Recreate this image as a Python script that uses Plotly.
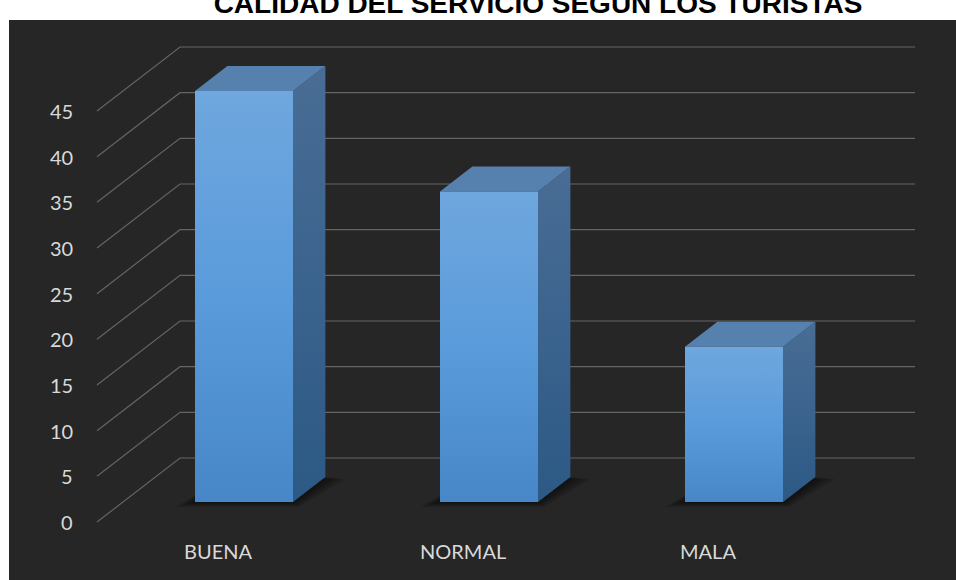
import plotly.graph_objects as go

# ---------------- data ----------------
categories = ["BUENA", "NORMAL", "MALA"]
values = [45, 34, 17]
tick_values = [0, 5, 10, 15, 20, 25, 30, 35, 40, 45]
tick_labels = [str(v) for v in tick_values]
title_text = "CALIDAD DEL SERVICIO SEGÚN LOS TURISTAS"

# ---------------- geometry / style ----------------
W, H = 956, 580
ML, MT = 9, 20                 # white strip left / top
CAT_PX = 245.0                 # px per category
CAT0_PX = 244.0                # px of first category centre (bar front plane)
UNIT_PX = 9.133                # px per value unit
BASE_PX = 502.0                # px of value 0 at bar front plane

def px_x(d):
    return d / CAT_PX

def px_y(d):
    return d / UNIT_PX

FLOOR_DX, FLOOR_DY = 83.0, 64.0          # oblique depth of whole floor (px)
FRONT_FRAC, BACK_FRAC = -0.3125, 0.6875  # floor front/back relative to bar front
BAR_DEPTH_FRAC = 0.39
BAR_W = 0.40

fx, fy = px_x(FLOOR_DX * FRONT_FRAC), px_y(FLOOR_DY * FRONT_FRAC)
bx, by = px_x(FLOOR_DX * BACK_FRAC), px_y(FLOOR_DY * BACK_FRAC)
ddx, ddy = px_x(FLOOR_DX * BAR_DEPTH_FRAC), px_y(FLOOR_DY * BAR_DEPTH_FRAC)

wall_front_x = (97 - CAT0_PX) / CAT_PX
wall_back_x = wall_front_x + px_x(FLOOR_DX)
wall_right_x = (915 - CAT0_PX) / CAT_PX
tick_label_x = (75 - CAT0_PX) / CAT_PX

x_range = [(ML - CAT0_PX) / CAT_PX, (W - CAT0_PX) / CAT_PX]
y_range = [(BASE_PX - H) / UNIT_PX, (BASE_PX - MT) / UNIT_PX]

BG = "#262626"
GRID = "#646464"
TXT = "#D9D9D9"
FONT = "Lato, 'Open Sans', sans-serif"

fig = go.Figure()

# gridlines: left wall diagonals + back wall horizontals
gx, gy = [], []
for v in tick_values:
    gx += [wall_front_x, wall_back_x, wall_right_x, None]
    gy += [v + fy, v + by, v + by, None]
fig.add_trace(go.Scatter(x=gx, y=gy, mode="lines",
                         line=dict(color=GRID, width=1.2),
                         hoverinfo="skip", showlegend=False))

# shadows
for i, v in enumerate(values):
    x0, x1 = i - BAR_W / 2, i + BAR_W / 2
    for k in range(1, 6):
        e = 4.0 * k
        sx = [x0 - px_x(e), x1 + px_x(e * 0.3), x1 + ddx + px_x(e), x0 + ddx, x0 - px_x(e)]
        sy = [-px_y(e * 0.25), -px_y(e * 0.25), ddy - px_y(e * 0.1), ddy, -px_y(e * 0.25)]
        fig.add_trace(go.Scatter(x=sx, y=sy, mode="lines", fill="toself",
                                 fillcolor="rgba(0,0,0,0.12)",
                                 line=dict(width=0), hoverinfo="skip",
                                 showlegend=False))

# 3D bars
for i, v in enumerate(values):
    x0, x1 = i - BAR_W / 2, i + BAR_W / 2
    # side face
    fig.add_trace(go.Scatter(
        x=[x1, x1 + ddx, x1 + ddx, x1, x1],
        y=[0, ddy, v + ddy, v, 0],
        mode="lines", fill="toself", line=dict(width=0),
        fillgradient=dict(type="vertical",
                          colorscale=[[0, "#2C5985"], [1, "#496D95"]]),
        hoverinfo="skip", showlegend=False))
    # top face
    fig.add_trace(go.Scatter(
        x=[x0, x1, x1 + ddx, x0 + ddx, x0],
        y=[v, v, v + ddy, v + ddy, v],
        mode="lines", fill="toself", line=dict(width=0),
        fillcolor="#5680AE",
        hoverinfo="skip", showlegend=False))
    # front face
    fig.add_trace(go.Scatter(
        x=[x0, x1, x1, x0, x0],
        y=[0, 0, v, v, 0],
        mode="lines", fill="toself", line=dict(width=0),
        fillgradient=dict(type="vertical",
                          colorscale=[[0, "#4787C7"], [0.5, "#5A9BDB"], [1, "#6FA7DE"]]),
        hoverinfo="skip", showlegend=False))

annotations = []
for v, lab in zip(tick_values, tick_labels):
    annotations.append(dict(x=tick_label_x, y=v + fy, xref="x", yref="y",
                            text=lab, showarrow=False, xanchor="right",
                            yanchor="middle",
                            font=dict(family=FONT, size=20, color=TXT)))
for i, c in enumerate(categories):
    annotations.append(dict(x=i + fx, y=fy - px_y(29), xref="x", yref="y",
                            text=c, showarrow=False, xanchor="center",
                            yanchor="middle",
                            font=dict(family=FONT, size=20, color=TXT)))

fig.update_layout(
    width=W, height=H,
    margin=dict(l=ML, r=0, t=MT, b=0, pad=0),
    paper_bgcolor="white",
    plot_bgcolor=BG,
    showlegend=False,
    title=dict(text="<b>" + title_text + "</b>",
               font=dict(family="'Liberation Sans', Arial, sans-serif",
                         size=28, color="black"),
               x=538 / W, xref="container", xanchor="center",
               y=1 - 3 / H, yref="container", yanchor="middle"),
    xaxis=dict(range=x_range, visible=False, fixedrange=True),
    yaxis=dict(range=y_range, visible=False, fixedrange=True),
    annotations=annotations,
)

fig.write_html("out.html")
